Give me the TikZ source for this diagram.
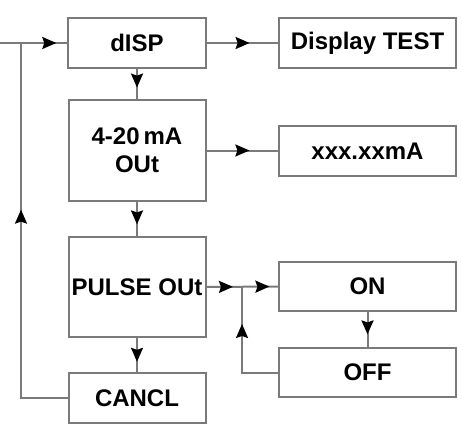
\documentclass[tikz,border=0pt]{standalone}
\usepackage{fontspec}
\setmainfont{Liberation Sans}
\usetikzlibrary{arrows.meta,decorations.markings}
\definecolor{wire}{HTML}{7A7A7A}

\begin{document}
\begin{tikzpicture}[
    x=1pt, y=-1pt,
    box/.style={
        draw=wire, line width=2pt, inner sep=0pt,
        minimum width=#1, align=center,
        font=\fontsize{24}{28}\selectfont\bfseries
    },
    wireline/.style={draw=wire, line width=2pt},
    midtip/.style={
        postaction={decorate},
        decoration={markings, mark=at position #1 with
            {\arrow{Stealth[length=14pt,width=12pt,inset=2pt,color=black]}}}
    },
    twotips/.style 2 args={
        postaction={decorate},
        decoration={markings,
            mark=at position #1 with {\arrow{Stealth[length=14pt,width=12pt,inset=2pt,color=black]}},
            mark=at position #2 with {\arrow{Stealth[length=14pt,width=12pt,inset=2pt,color=black]}}}
    }
]
\useasboundingbox (0,0) rectangle (462,428);

% Left column
\node[box=138pt, minimum height=50pt] (disp) at (137,43) {dISP};
\node[box=137pt, minimum height=101pt] (ma) at (137,150.5) {4-20\,mA\\OUt};
\node[box=137pt, minimum height=100pt] (pulse) at (137,287) {PULSE OUt};
\node[box=137pt, minimum height=50pt] (cancl) at (137,398) {CANCL};

% Right column
\node[box=177pt, minimum height=50pt] (test) at (367.5,43) {Display TEST};
\node[box=177pt, minimum height=50pt] (xma) at (367.5,151) {xxx.xxmA};
\node[box=177pt, minimum height=49pt] (on) at (367.5,286.5) {ON};
\node[box=177pt, minimum height=49pt] (off) at (367.5,372.5) {OFF};

% Entry and junctions
\coordinate (entry) at (0,43);
\coordinate (jleft) at (21,43);
\coordinate (jright) at (242,286);

% Connectors
\draw[wireline, midtip=0.84] (entry) -- (disp.west);
\draw[wireline, midtip=0.6] (disp.east) -- (test.west);
\draw[wireline, midtip=0.62] (disp.south) -- (ma.north);
\draw[wireline, midtip=0.6] (ma.east) -- (xma.west |- ma.east);
\draw[wireline, midtip=0.66] (ma.south) -- (pulse.north);
\draw[wireline, midtip=0.7] (pulse.south) -- (cancl.north);
\draw[wireline, twotips={0.37}{0.88}] (pulse.east) -- (on.west);
\draw[wireline, midtip=0.64] (on.south) -- (off.north);

% Return paths
\draw[wireline, midtip=0.585] (cancl.west) -| (jleft);
\draw[wireline, midtip=0.69] (off.west) -| (jright);

\end{tikzpicture}
\end{document}
